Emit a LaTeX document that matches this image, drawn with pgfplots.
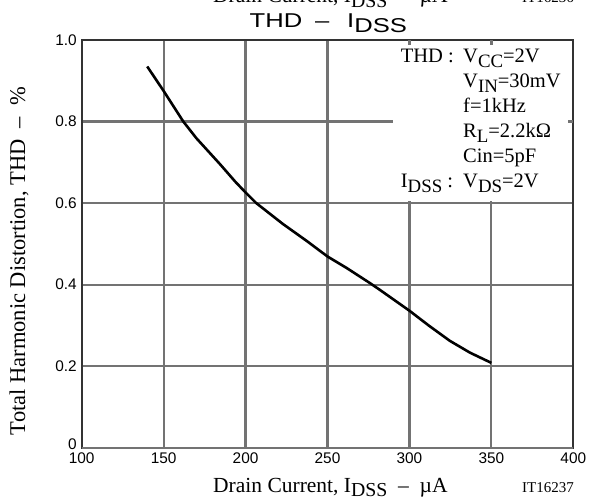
\documentclass[border=0pt]{standalone}
\usepackage{fontspec}
\setmainfont{Liberation Serif}
\newfontfamily\hv{Liberation Sans}
\usepackage{graphicx}
\usepackage{pgfplots}
\pgfplotsset{compat=1.18}
\newcommand{\sub}[1]{\raisebox{-0.22em}{\scalebox{0.92}{#1}}}
\newcommand{\txt}{\fontsize{20.5bp}{24bp}\selectfont}
\newcommand{\xlab}{Drain Current, I\sub{DSS}\hspace{0.5em}–\hspace{0.5em}µA}

\begin{document}
\begin{tikzpicture}
\begin{axis}[
  grid=major,
  grid style={color=black!55, line width=2.2bp},
  tick style={color=black!55, line width=2.2bp},
  tick align=inside, tick pos=both,
  major tick length=5bp,
  axis line style={black!80, line width=2bp},
  at={(81.7bp,56.3bp)}, anchor=south west,
  width=491.6bp, height=407.7bp, scale only axis,
  xmin=100, xmax=400, ymin=0, ymax=1,
  xtick={100,150,...,400},
  ytick={0.2,0.4,0.6,0.8,1},
  yticklabels={0.2,0.4,0.6,0.8,1.0},
  extra y ticks={0}, extra y tick labels={0},
  extra y tick style={yticklabel style={yshift=3bp}},
  ticklabel style={font=\hv\fontsize{15.4bp}{18bp}\selectfont},
  xticklabel style={yshift=-2bp, /pgf/number format/assume math mode=true},
  yticklabel style={xshift=-1.5bp},
]
\addplot[black, line width=2.6bp] coordinates {
  (140,0.935) (150,0.875) (162,0.800) (170,0.759) (184.5,0.695)
  (193.6,0.653) (200,0.626) (206.5,0.600) (222.7,0.549) (237,0.508)
  (250,0.469) (261.6,0.441) (275.8,0.404) (282,0.387) (294,0.353)
  (300,0.336) (312,0.299) (324.7,0.262) (337,0.233) (350,0.208)
};
\end{axis}
% blank area behind the test conditions, with the ticks it hides
\fill[white] (393bp,303.4bp) rectangle (572.3bp,463bp);
\draw[black!55, line width=2.2bp] (568.3bp,382.5bp) -- (573.3bp,382.5bp)
  (409.4bp,464bp) -- (409.4bp,459bp) (491.4bp,464bp) -- (491.4bp,459bp);
% title
\node[anchor=base, inner sep=0, font=\hv\fontsize{20bp}{24bp}\selectfont]
  at (328.3bp,476.3bp)
  {\scalebox{1.28}[1]{THD\hspace{10bp}–\hspace{14bp}I\raisebox{-0.25em}{DSS}}};
% conditions
\begin{scope}[every node/.style={anchor=base west, inner sep=0, font=\txt}]
\node at (400.7bp,441bp) {THD :};
\node at (463bp,441bp) {V\sub{CC}=2V};
\node at (463bp,416bp) {V\sub{IN}=30mV};
\node at (463bp,391bp) {f=1kHz};
\node at (463bp,366bp) {R\sub{L}=2.2kΩ};
\node at (463bp,341bp) {Cin=5pF};
\node at (400.7bp,316bp) {I\sub{DSS} :};
\node at (463bp,316bp) {V\sub{DS}=2V};
\end{scope}
% axis titles
\begin{scope}[every node/.style={anchor=base west, inner sep=0,
    font=\fontsize{21.5bp}{24bp}\selectfont}]
\node at (213bp,12bp) {\xlab};
\node at (213bp,501bp) {\xlab};
\end{scope}
\node[anchor=base west, inner sep=0, font=\fontsize{15bp}{18bp}\selectfont]
  at (522bp,12bp) {IT16237};
\node[anchor=base west, inner sep=0, font=\fontsize{15bp}{18bp}\selectfont]
  at (522bp,501bp) {IT16236};
\node[anchor=base, inner sep=0, rotate=90, font=\fontsize{22.5bp}{26bp}\selectfont]
  at (25bp,243bp) {Total Harmonic Distortion, THD\hspace{0.5em}–\hspace{0.5em}\%};
\pgfresetboundingbox
\path[use as bounding box] (0,0) rectangle (589bp,504bp);
\end{tikzpicture}
\end{document}
